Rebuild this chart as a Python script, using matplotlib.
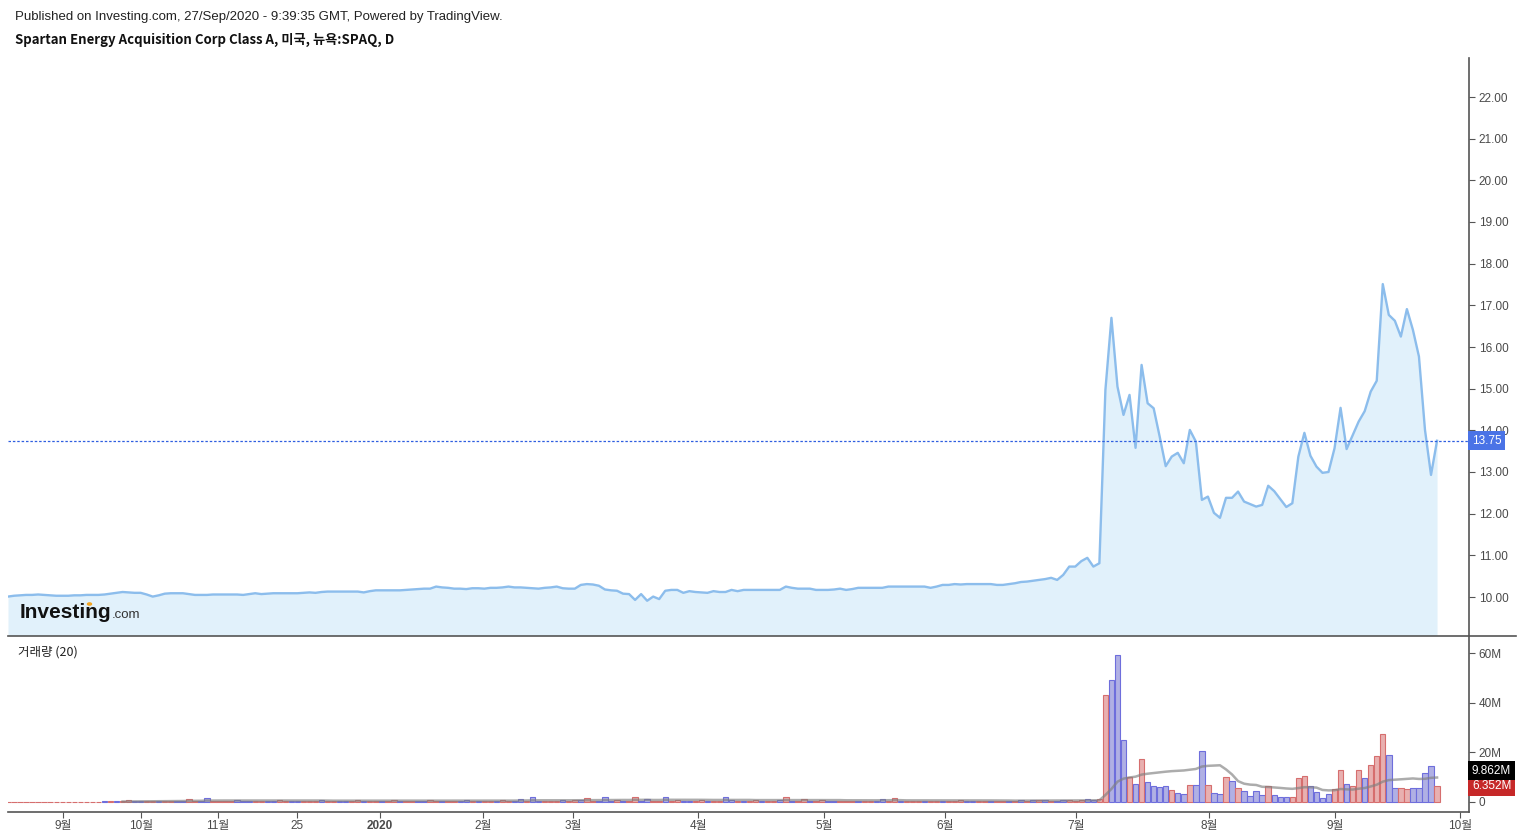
import numpy as np
import pandas as pd
import matplotlib
matplotlib.use("Agg")
from matplotlib import pyplot as plt
from matplotlib import transforms
from matplotlib import font_manager
from matplotlib.lines import Line2D
from matplotlib.patches import Circle

plt.rcParams['font.family'] = ['Liberation Sans', 'Noto Sans CJK KR', 'DejaVu Sans']

# daily closes (bar index axis, like the TradingView export)
price = [
    10.01, 10.03, 10.04, 10.05, 10.05, 10.06, 10.05, 10.04, 10.03, 10.03,
    10.03, 10.04, 10.04, 10.05, 10.05, 10.05, 10.06, 10.08, 10.10, 10.12,
    10.11, 10.10, 10.10, 10.06, 10.01, 10.04, 10.08, 10.09, 10.09, 10.09,
    10.07, 10.05, 10.05, 10.05, 10.06, 10.06, 10.06, 10.06, 10.06, 10.05,
    10.07, 10.09, 10.07, 10.08, 10.09, 10.09, 10.09, 10.09, 10.09, 10.10,
    10.11, 10.10, 10.12, 10.13, 10.13, 10.13, 10.13, 10.13, 10.13, 10.11,
    10.14, 10.16, 10.16, 10.16, 10.16, 10.16, 10.17, 10.18, 10.19, 10.20,
    10.20, 10.25, 10.23, 10.22, 10.20, 10.20, 10.19, 10.21, 10.21, 10.20,
    10.22, 10.22, 10.23, 10.25, 10.23, 10.23, 10.22, 10.21, 10.20, 10.22,
    10.23, 10.25, 10.21, 10.20, 10.20, 10.29, 10.31, 10.30, 10.27, 10.18,
    10.16, 10.15, 10.08, 10.07, 9.93, 10.07, 9.91, 10.01, 9.95, 10.15,
    10.17, 10.17, 10.10, 10.14, 10.12, 10.11, 10.10, 10.14, 10.12, 10.12,
    10.17, 10.14, 10.17, 10.17, 10.17, 10.17, 10.17, 10.17, 10.17, 10.25,
    10.22, 10.20, 10.20, 10.20, 10.17, 10.17, 10.17, 10.18, 10.20, 10.17,
    10.19, 10.22, 10.22, 10.22, 10.22, 10.22, 10.25, 10.25, 10.25, 10.25,
    10.25, 10.25, 10.25, 10.22, 10.25, 10.29, 10.29, 10.31, 10.30, 10.31,
    10.31, 10.31, 10.31, 10.31, 10.29, 10.29, 10.31, 10.33, 10.36, 10.37,
    10.39, 10.41, 10.43, 10.46,
    10.41, 10.53, 10.73, 10.73, 10.86, 10.94, 10.73, 10.81, 14.97, 16.70,
    15.05, 14.37, 14.85, 13.58, 15.57, 14.65, 14.53, 13.85, 13.14, 13.37,
    13.46, 13.21, 14.01, 13.73, 12.33, 12.41, 12.02, 11.90, 12.38, 12.38,
    12.53, 12.29, 12.23, 12.17, 12.21, 12.67, 12.54, 12.35, 12.16, 12.25,
    13.37, 13.94, 13.39, 13.13, 12.98, 13.00, 13.57, 14.54, 13.55, 13.88,
    14.21, 14.46, 14.93, 15.19, 17.51, 16.77, 16.63, 16.25, 16.91, 16.41,
    15.77, 14.01, 12.93, 13.75,
]

# volume in millions
volume = [
    0.1, 0.1, 0.1, 0.1, 0.1, 0.1, 0.1, 0.1, 0.1, 0.1,
    0.1, 0.1, 0.1, 0.1, 0.1, 0.1, 0.5, 0.6, 0.4, 0.5,
    0.7, 0.5, 0.4, 0.6, 0.5, 0.5, 0.6, 0.4, 0.5, 0.6,
    1.3, 0.5, 0.4, 1.5, 0.6, 0.5, 0.4, 0.6, 0.7, 0.5,
    0.6, 0.5, 0.4, 0.5, 0.6, 0.7, 0.5, 0.4, 0.6, 0.5,
    0.5, 0.6, 0.7, 0.5, 0.4, 0.6, 0.5, 0.5, 0.7, 0.6,
    0.5, 0.4, 0.6, 0.5, 0.7, 0.6, 0.5, 0.4, 0.5, 0.6,
    0.8, 0.5, 0.6, 0.5, 0.4, 0.6, 0.7, 0.5, 0.5, 0.6,
    0.6, 0.5, 0.7, 0.6, 0.5, 1.3, 0.6, 2.0, 0.6, 0.5,
    0.6, 0.5, 0.7, 0.6, 0.8, 0.7, 1.5, 0.6, 0.5, 2.0,
    0.5, 0.7, 0.6, 0.5, 2.0, 0.6, 1.3, 0.5, 0.6, 2.0,
    0.6, 0.7, 0.5, 0.6, 0.5, 0.7, 0.6, 0.5, 0.6, 2.0,
    0.7, 0.6, 0.5, 0.6, 0.7, 0.5, 0.6, 0.5, 0.7, 2.2,
    0.6, 0.5, 1.2, 0.6, 0.5, 0.7, 0.6, 0.5, 0.4, 0.6,
    0.5, 0.6, 0.5, 0.4, 0.6, 1.2, 0.5, 1.5, 0.6, 0.5,
    0.5, 0.4, 0.6, 0.5, 0.5, 0.6, 0.4, 0.5, 1.0, 0.6,
    0.5, 0.6, 0.5, 0.4, 0.6, 0.5, 0.5, 0.6, 0.7, 0.6,
    0.7, 0.8, 0.9, 0.3, 0.4, 0.8, 0.8, 0.6, 0.8, 1.2,
    0.9, 1.2, 43.1, 49.0, 59.2, 25.0, 9.9, 7.1, 17.3, 7.9,
    6.3, 5.9, 6.4, 4.7, 3.5, 3.2, 6.7, 6.7, 20.5, 6.7,
    3.5, 3.1, 9.9, 8.3, 5.5, 4.3, 2.4, 4.3, 2.7, 6.3,
    2.7, 1.9, 1.9, 1.9, 9.5, 10.3, 6.4, 3.9, 1.5, 3.1,
    5.1, 12.7, 7.1, 6.4, 12.8, 9.588, 14.9, 18.6, 27.2, 18.9,
    5.5, 5.5, 5.1, 5.5, 5.5, 11.5, 14.4, 6.352,
]

# bar colour: u = blue, d = red
vol_dir = (
    "dddddddddd" "ddddddudud" "duuddudduu" "dduudddduu" "udduudduud"
    "ddudduuddu" "dduddudduu" "ddudduudud" "dudduuduud" "dduddudduu"
    "ududduuddu" "dduudduddu" "ududduddud" "uddudduudd" "dudduuddud"
    "dduddudddu" "udduddudud" "ududuudddu" "udduuududu" "uuuduuduud"
    "uududuuuud" "uuuddduuuu" "dduddudddu" "udduuuud"
)

tick_pos = [9.12, 22.06, 34.83, 47.93, 61.69, 78.77, 93.70, 114.43,
            135.32, 155.39, 177.11, 199.17, 220.07, 240.80]
tick_lab = ["9월", "10월", "11월", "25", "2020", "2월", "3월", "4월",
            "5월", "6월", "7월", "8월", "9월", "10월"]

W, H = 1524, 835
fig = plt.figure(figsize=(W / 100, H / 100), dpi=100)
ax = fig.add_axes([8 / W, 1 - 636 / H, (1469 - 8) / W, (636 - 58) / H])
axv = fig.add_axes([8 / W, 1 - 812 / H, (1469 - 8) / W, (812 - 636) / H], sharex=ax)

x = np.arange(len(price))
p = np.array(price)
v = np.array(volume)
ma = pd.Series(v).rolling(20).mean()

# price panel
ax.fill_between(x, p, 0, color='#e1f1fb', lw=0)
ax.plot(x, p, color='#8cbdec', lw=1.7, solid_joinstyle='round')
ax.axhline(p[-1], color='#2f5fe0', lw=0.9, ls=(0, (2, 1.5)))
ax.set_ylim(9.064, 22.936)
ax.set_xlim(0, 242.3)
ax.set_yticks(np.arange(10, 23))
ax.set_yticklabels(["%.2f" % t for t in np.arange(10, 23)])
ax.yaxis.tick_right()
ax.tick_params(axis='y', length=4, width=0.8, color='#555555', labelsize=8.5,
               labelcolor='#4a4a4a', pad=3)
ax.tick_params(axis='x', bottom=False, labelbottom=False)
for s in ['left', 'top', 'bottom']:
    ax.spines[s].set_visible(False)
ax.spines['right'].set_color('#555555')
ax.spines['right'].set_linewidth(1.2)

tr = transforms.blended_transform_factory(ax.transAxes, ax.transData)
ax.text(1.002, p[-1], "%.2f" % p[-1], transform=tr, ha='left', va='center',
        fontsize=8.5, color='white',
        bbox=dict(boxstyle='square,pad=0.3', fc='#4a73e6', ec='none'))

# volume panel
up = np.array([c == 'u' for c in vol_dir])
fills = np.where(up, '#b0b0e4', '#e8b0b0')
edges = np.where(up, '#6e6edc', '#d66e6e')
axv.bar(x, v, width=0.9, color=fills, edgecolor=edges, linewidth=0.8)
axv.plot(x, ma, color='#808080', alpha=0.65, lw=1.8)
axv.set_ylim(-4.03, 66.85)
axv.set_yticks([0, 20, 40, 60])
axv.set_yticklabels(["0", "20M", "40M", "60M"])
axv.yaxis.tick_right()
axv.tick_params(axis='y', length=4, width=0.8, color='#555555', labelsize=8.5,
                labelcolor='#4a4a4a', pad=3)
axv.set_xticks(tick_pos)
axv.set_xticklabels(tick_lab)
axv.tick_params(axis='x', length=4, width=0.8, color='#555555', labelsize=8.5,
                labelcolor='#4a4a4a', pad=2)
for lab in axv.get_xticklabels():
    if lab.get_text() == "2020":
        lab.set_fontweight('bold')
for s in ['left', 'top']:
    axv.spines[s].set_visible(False)
for s in ['right', 'bottom']:
    axv.spines[s].set_color('#555555')
    axv.spines[s].set_linewidth(1.2)

trv = transforms.blended_transform_factory(axv.transAxes, axv.transData)
axv.text(1.002, v[-1], "%.3fM" % v[-1], transform=trv, ha='left', va='center',
         fontsize=8.5, color='white',
         bbox=dict(boxstyle='square,pad=0.3', fc='#c62828', ec='none'))
axv.text(1.002, max(ma.iloc[-1], v[-1] + 6.3), "%.3fM" % ma.iloc[-1], transform=trv,
         ha='left', va='center', fontsize=8.5, color='white',
         bbox=dict(boxstyle='square,pad=0.3', fc='black', ec='none'))

# divider between the panels
fig.add_artist(Line2D([8 / W, 1516 / W], [1 - 636 / H, 1 - 636 / H],
                      color='#555555', lw=1.2))

# texts
fig.text(15 / W, 1 - 17 / H,
         "Published on Investing.com, 27/Sep/2020 - 9:39:35 GMT, Powered by TradingView.",
         fontsize=9.5, color='#222222', va='center')
fig.text(15 / W, 1 - 40 / H, "Spartan Energy Acquisition Corp Class A, 미국, 뉴욕:SPAQ, D",
         fontsize=9.5, fontweight='bold', color='#111111', va='center',
         family=['Noto Sans CJK KR', 'DejaVu Sans'])
fig.text(18 / W, 1 - 652 / H, "거래량 (20)", fontsize=9, color='#222222', va='center',
         family=['Noto Sans CJK KR', 'DejaVu Sans'])

# watermark logo
installed = {f.name for f in font_manager.fontManager.ttflist}
if 'Liberation Sans Narrow' in installed:
    logo_font, logo_size, com_size = 'Liberation Sans Narrow', 18, 11
else:
    logo_font, logo_size, com_size = 'Liberation Sans', 15, 9.5
fig.text(20 / W, 1 - 612 / H, "Investing", fontsize=logo_size, fontweight='bold',
         color='#111111', va='center', family=logo_font)
fig.text(112 / W, 1 - 615 / H, ".com", fontsize=com_size, color='#333333',
         va='center', family=logo_font)
fig.add_artist(Circle((89.5 / W, 1 - 604 / H), 2.0 / W, color='#f5a623',
                      transform=fig.transFigure))

fig.savefig("out.png", dpi=100, facecolor='white')
